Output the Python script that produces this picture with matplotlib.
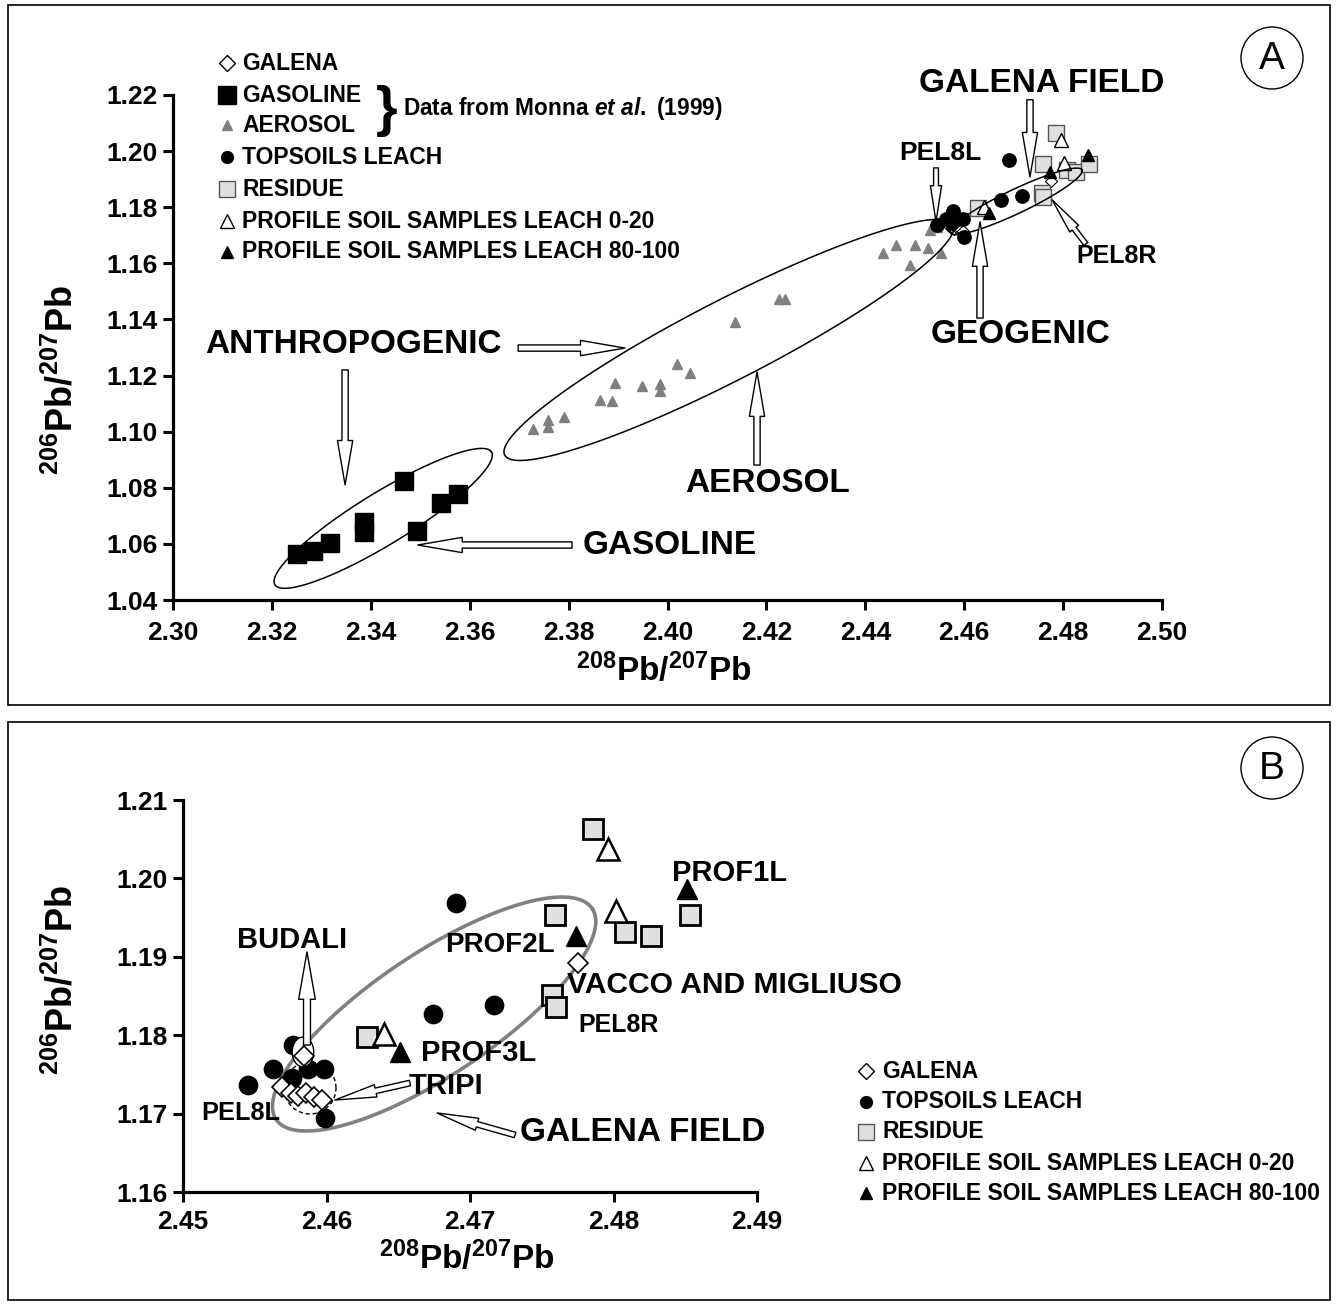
import numpy as np
import matplotlib
matplotlib.use('Agg')
import matplotlib.pyplot as plt
from matplotlib.patches import FancyArrowPatch, Ellipse, Rectangle
from matplotlib.lines import Line2D

# ---------------- data ----------------
# panel A only (Monna et al. 1999)
gasoline_x = [2.3250, 2.3283, 2.3317, 2.3387, 2.3387, 2.3468, 2.3494, 2.3542, 2.3576]
gasoline_y = [1.0564, 1.0576, 1.0604, 1.0679, 1.0643, 1.0825, 1.0646, 1.0745, 1.0777]

aerosol_x = [2.3727, 2.3759, 2.3759, 2.3791, 2.3863, 2.3888, 2.3894, 2.3949, 2.3985, 2.3985,
             2.4020, 2.4045, 2.4137, 2.4226, 2.4238, 2.4436, 2.4463, 2.4491, 2.4500, 2.4526,
             2.4554, 2.4531, 2.4545]
aerosol_y = [1.1009, 1.1042, 1.1018, 1.1051, 1.1113, 1.1111, 1.1173, 1.1161, 1.1170, 1.1146,
             1.1241, 1.1210, 1.1392, 1.1472, 1.1472, 1.1636, 1.1666, 1.1594, 1.1666, 1.1654,
             1.1636, 1.1719, 1.1731]

# samples shown in both panels
galena_x = [2.4584, 2.4569, 2.4575, 2.4580, 2.4586, 2.4591, 2.4597, 2.4775]
galena_y = [1.1773, 1.1734, 1.1726, 1.1722, 1.1726, 1.1721, 1.1717, 1.1892]

topsoil_x = [2.4545, 2.4563, 2.4577, 2.4576, 2.4587, 2.4598, 2.4599, 2.4674, 2.4690, 2.4717]
topsoil_y = [1.1737, 1.1757, 1.1788, 1.1745, 1.1757, 1.1757, 1.1694, 1.1827, 1.1968, 1.1839]

residue_x = [2.4786, 2.4759, 2.4808, 2.4826, 2.4853, 2.4757, 2.4760, 2.4628]
residue_y = [1.2063, 1.1953, 1.1932, 1.1927, 1.1953, 1.1851, 1.1836, 1.1798]

prof20_x = [2.4796, 2.4802, 2.4640]
prof20_y = [1.2038, 1.1958, 1.1802]

prof100_x = [2.4851, 2.4774, 2.4651]
prof100_y = [1.1987, 1.1926, 1.1779]

xticks_a = np.round(np.arange(2.30, 2.5001, 0.02), 2)
yticks_a = np.round(np.arange(1.04, 1.2201, 0.02), 2)
xticks_b = np.round(np.arange(2.45, 2.4901, 0.01), 2)
yticks_b = np.round(np.arange(1.16, 1.2101, 0.01), 2)

legend_a = ['GALENA', 'GASOLINE', 'AEROSOL', 'TOPSOILS LEACH', 'RESIDUE',
            'PROFILE SOIL SAMPLES LEACH 0-20', 'PROFILE SOIL SAMPLES LEACH 80-100']
legend_b = ['GALENA', 'TOPSOILS LEACH', 'RESIDUE',
            'PROFILE SOIL SAMPLES LEACH 0-20', 'PROFILE SOIL SAMPLES LEACH 80-100']

# ---------------- fonts ----------------
plt.rcParams['font.family'] = ['Liberation Sans', 'DejaVu Sans']
plt.rcParams['font.weight'] = 'bold'
plt.rcParams['mathtext.fontset'] = 'custom'
plt.rcParams['mathtext.rm'] = 'Liberation Sans:bold'
plt.rcParams['mathtext.bf'] = 'Liberation Sans:bold'
plt.rcParams['mathtext.it'] = 'Liberation Sans:italic:bold'

W, H = 1338, 1307
fig = plt.figure(figsize=(W / 100, H / 100), dpi=100)

def fx(px):
  return px / W

def fy(py):
  return 1 - py / H

GRAY = '#808080'
LGRAY = '#e0e0e0'

# marker styles
st = {
  'galena':  dict(marker='D', mfc='white', mec='black', ls='none'),
  'gasoline': dict(marker='s', mfc='black', mec='black', ls='none'),
  'aerosol': dict(marker='^', mfc=GRAY, mec=GRAY, ls='none'),
  'topsoil': dict(marker='o', mfc='black', mec='black', ls='none'),
  'residue': dict(marker='s', mfc=LGRAY, ls='none'),
  'prof20':  dict(marker='^', mfc='white', mec='black', ls='none'),
  'prof100': dict(marker='^', mfc='black', mec='black', ls='none'),
}

def style_axes(ax, xt, yt, xpad):
  for s in ['top', 'right']:
    ax.spines[s].set_visible(False)
  for s in ['left', 'bottom']:
    ax.spines[s].set_linewidth(2.3)
  ax.set_xticks(xt)
  ax.set_yticks(yt)
  ax.set_xticklabels(['%.2f' % v for v in xt])
  ax.set_yticklabels(['%.2f' % v for v in yt])
  ax.tick_params(direction='out', length=7, width=2.2, labelsize=19, pad=4)
  ax.tick_params(axis='x', pad=xpad)
  for lab in ax.get_xticklabels() + ax.get_yticklabels():
    lab.set_fontweight('bold')

def ellipse(ax, cx, cy, a, b, ang, **kw):
  """ draw an ellipse given in screen pixels around a data point """
  t = np.linspace(0, 2 * np.pi, 400)
  c = ax.transData.transform((cx, cy))
  th = np.radians(ang)
  u = a * np.cos(t); v = b * np.sin(t)
  px = c[0] + u * np.cos(th) - v * np.sin(th)
  py = c[1] + u * np.sin(th) + v * np.cos(th)
  d = ax.transData.inverted().transform(np.column_stack([px, py]))
  ax.plot(d[:, 0], d[:, 1], clip_on=False, **kw)

def hollow_arrow(ax, p0, p1, tail=0.45, hw=1.1, hl=3.2, ms=10):
  arr = FancyArrowPatch(p0, p1,
                        arrowstyle='simple,head_length=%g,head_width=%g,tail_width=%g' % (hl, hw, tail),
                        mutation_scale=ms, fc='white', ec='black', lw=1.0,
                        shrinkA=0, shrinkB=0, clip_on=False, zorder=6)
  ax.add_patch(arr)

def legend_rows(x_marker, x_text, rows, fs):
  for (y, key, kw, lab) in rows:
    fig.add_artist(Line2D([fx(x_marker)], [fy(y)], transform=fig.transFigure, **st[key], **kw))
    fig.text(fx(x_text), fy(y), lab, fontsize=fs, weight='bold', va='center', ha='left')

# ---------------- panel frames ----------------
fig.add_artist(Rectangle((fx(8), fy(705)), fx(1330) - fx(8), fy(5) - fy(705),
                         transform=fig.transFigure, fill=False, lw=1.2, ec='black'))
fig.add_artist(Rectangle((fx(8), fy(1300)), fx(1330) - fx(8), fy(722) - fy(1300),
                         transform=fig.transFigure, fill=False, lw=1.2, ec='black'))

# ================= PANEL A =================
axA = fig.add_axes([fx(173), fy(600), fx(1162) - fx(173), fy(95) - fy(600)])
axA.set_xlim(2.30, 2.50)
axA.set_ylim(1.04, 1.22)
style_axes(axA, xticks_a, yticks_a, 8)

axA.plot(gasoline_x, gasoline_y, ms=13.5, **st['gasoline'])
axA.plot(aerosol_x, aerosol_y, ms=7.5, **st['aerosol'])
axA.plot(galena_x, galena_y, ms=6, mew=0.8, **st['galena'])
axA.plot(topsoil_x, topsoil_y, ms=9.6, **st['topsoil'])
axA.plot(residue_x, residue_y, ms=12, mec='#555555', mew=1.0, **st['residue'])
axA.plot(prof20_x, prof20_y, ms=9.5, mew=1.0, **st['prof20'])
axA.plot(prof100_x, prof100_y, ms=9.0, **st['prof100'])

# fields
ellipse(axA, 2.3425, 1.0691, 127, 26, 31.5, color='black', lw=1.1)
ellipse(axA, 2.4124, 1.1327, 252, 40, 27.2, color='black', lw=1.1)
ellipse(axA, 2.4705, 1.1821, 73, 12, 25.5, color='black', lw=1.1)

# arrows
hollow_arrow(axA, (2.3348, 1.1220), (2.3348, 1.0810))
hollow_arrow(axA, (2.3698, 1.1298), (2.3914, 1.1298))
hollow_arrow(axA, (2.4181, 1.0881), (2.4181, 1.1213))
hollow_arrow(axA, (2.3807, 1.0596), (2.3495, 1.0596))
hollow_arrow(axA, (2.4733, 1.2183), (2.4733, 1.1908))
hollow_arrow(axA, (2.4543, 1.1940), (2.4543, 1.1748), tail=0.35, hw=0.8, hl=2.6)
hollow_arrow(axA, (2.4632, 1.1405), (2.4632, 1.1748))
hollow_arrow(axA, (2.4846, 1.1669), (2.4778, 1.1826), tail=0.35, hw=0.8, hl=2.6)

# labels
big = dict(fontsize=24, weight='bold', ha='center', va='center', clip_on=False)
axA.text(2.3364, 1.1309, 'ANTHROPOGENIC', **big)
axA.text(2.4203, 1.0814, 'AEROSOL', **big)
axA.text(2.4005, 1.0593, 'GASOLINE', **big)
axA.text(2.4757, 1.2240, 'GALENA FIELD', **big)
axA.text(2.4713, 1.1345, 'GEOGENIC', **big)
axA.text(2.4551, 1.1994, 'PEL8L', fontsize=19, weight='bold', ha='center', va='center')
axA.text(2.4909, 1.1626, 'PEL8R', fontsize=18, weight='bold', ha='center', va='center')

# legend A
legend_rows(227, 242, [
  (63, 'galena', dict(ms=8, mew=1.0), legend_a[0]),
  (95, 'gasoline', dict(ms=13.5), legend_a[1]),
  (125, 'aerosol', dict(ms=7), legend_a[2]),
  (157, 'topsoil', dict(ms=8.5), legend_a[3]),
  (189, 'residue', dict(ms=12, mec='#555555', mew=1.0), legend_a[4]),
  (221, 'prof20', dict(ms=10, mew=1.0), legend_a[5]),
  (252, 'prof100', dict(ms=9), legend_a[6]),
], 16.5)
fig.text(fx(387), fy(111), '}', fontsize=40, weight='bold', ha='center', va='center')
fig.text(fx(403), fy(109), r'Data from Monna $\mathit{et\ al.}$ (1999)', fontsize=16.3,
         weight='bold', ha='left', va='center')

# axis labels A
fig.text(fx(62), fy(380), r'$^{206}$Pb/$^{207}$Pb', rotation=90, fontsize=26, weight='bold',
         ha='center', va='center')
fig.text(fx(664), fy(670), r'$^{208}$Pb/$^{207}$Pb', fontsize=24, weight='bold',
         ha='center', va='center')

# circled letter
fig.add_artist(Ellipse((fx(1272), fy(58)), 62 / W, 62 / H, transform=fig.transFigure,
                       fill=False, ec='black', lw=1.0))
fig.text(fx(1272), fy(59), 'A', fontsize=28, weight='normal', ha='center', va='center')

# ================= PANEL B =================
axB = fig.add_axes([fx(183), fy(1192), fx(757) - fx(183), fy(800) - fy(1192)])
axB.set_xlim(2.45, 2.49)
axB.set_ylim(1.16, 1.21)
style_axes(axB, xticks_b, yticks_b, 6)

ellipse(axB, 2.4675, 1.1827, 190, 61, 33.7, color=GRAY, lw=2.6, zorder=1)
ellipse(axB, 2.45885, 1.17327, 26, 26, 0, color='black', lw=1.0, ls=(0, (3, 2)), zorder=1)

axB.plot(topsoil_x, topsoil_y, ms=13.2, zorder=3, **st['topsoil'])
axB.add_patch(Ellipse((2.45836, 1.17786), 0.0015, 0.0038, fc='white', ec='black', lw=1.0, zorder=3))
axB.plot(galena_x, galena_y, ms=10, mew=1.2, zorder=4, **st['galena'])
axB.plot(residue_x, residue_y, ms=14, mec='black', mew=2.0, zorder=4, **st['residue'])
axB.plot(prof20_x, prof20_y, ms=16, mew=1.8, zorder=5, **st['prof20'])
axB.plot(prof100_x, prof100_y, ms=15, zorder=5, **st['prof100'])

hollow_arrow(axB, (2.45864, 1.17875), (2.45864, 1.19061), tail=0.5, hw=1.2, hl=3.4)
hollow_arrow(axB, (2.46582, 1.17390), (2.46059, 1.17173), tail=0.4, hw=0.9, hl=3.0)
hollow_arrow(axB, (2.47314, 1.16727), (2.46770, 1.17008), tail=0.4, hw=0.9, hl=3.0)

lab = dict(weight='bold', va='center', clip_on=False, zorder=7)
axB.text(2.45760, 1.19214, 'BUDALI', fontsize=21, ha='center', **lab)
axB.text(2.47209, 1.19150, 'PROF2L', fontsize=20, ha='center', **lab)
axB.text(2.47676, 1.18640, 'VACCO AND MIGLIUSO', fontsize=21.6, ha='left', **lab)
axB.text(2.47753, 1.18130, 'PEL8R', fontsize=18, ha='left', **lab)
axB.text(2.48408, 1.20069, 'PROF1L', fontsize=21, ha='left', **lab)
axB.text(2.46659, 1.17773, 'PROF3L', fontsize=21, ha='left', **lab)
axB.text(2.46575, 1.17352, 'TRIPI', fontsize=21, ha='left', **lab)
axB.text(2.45125, 1.17008, 'PEL8L', fontsize=18.3, ha='left', **lab)
axB.text(2.47348, 1.16753, 'GALENA FIELD', fontsize=24, ha='left', **lab)

legend_rows(866, 882, [
  (1071, 'galena', dict(ms=8, mew=1.0), legend_b[0]),
  (1102, 'topsoil', dict(ms=8.5), legend_b[1]),
  (1132, 'residue', dict(ms=12, mec='#555555', mew=1.0), legend_b[2]),
  (1163, 'prof20', dict(ms=10, mew=1.0), legend_b[3]),
  (1193, 'prof100', dict(ms=9), legend_b[4]),
], 16.5)

fig.text(fx(62), fy(980), r'$^{206}$Pb/$^{207}$Pb', rotation=90, fontsize=26, weight='bold',
         ha='center', va='center')
fig.text(fx(467), fy(1258), r'$^{208}$Pb/$^{207}$Pb', fontsize=24, weight='bold',
         ha='center', va='center')

fig.add_artist(Ellipse((fx(1272), fy(768)), 62 / W, 62 / H, transform=fig.transFigure,
                       fill=False, ec='black', lw=1.0))
fig.text(fx(1272), fy(769), 'B', fontsize=28, weight='normal', ha='center', va='center')

fig.savefig('out.png', dpi=100, facecolor='white')
